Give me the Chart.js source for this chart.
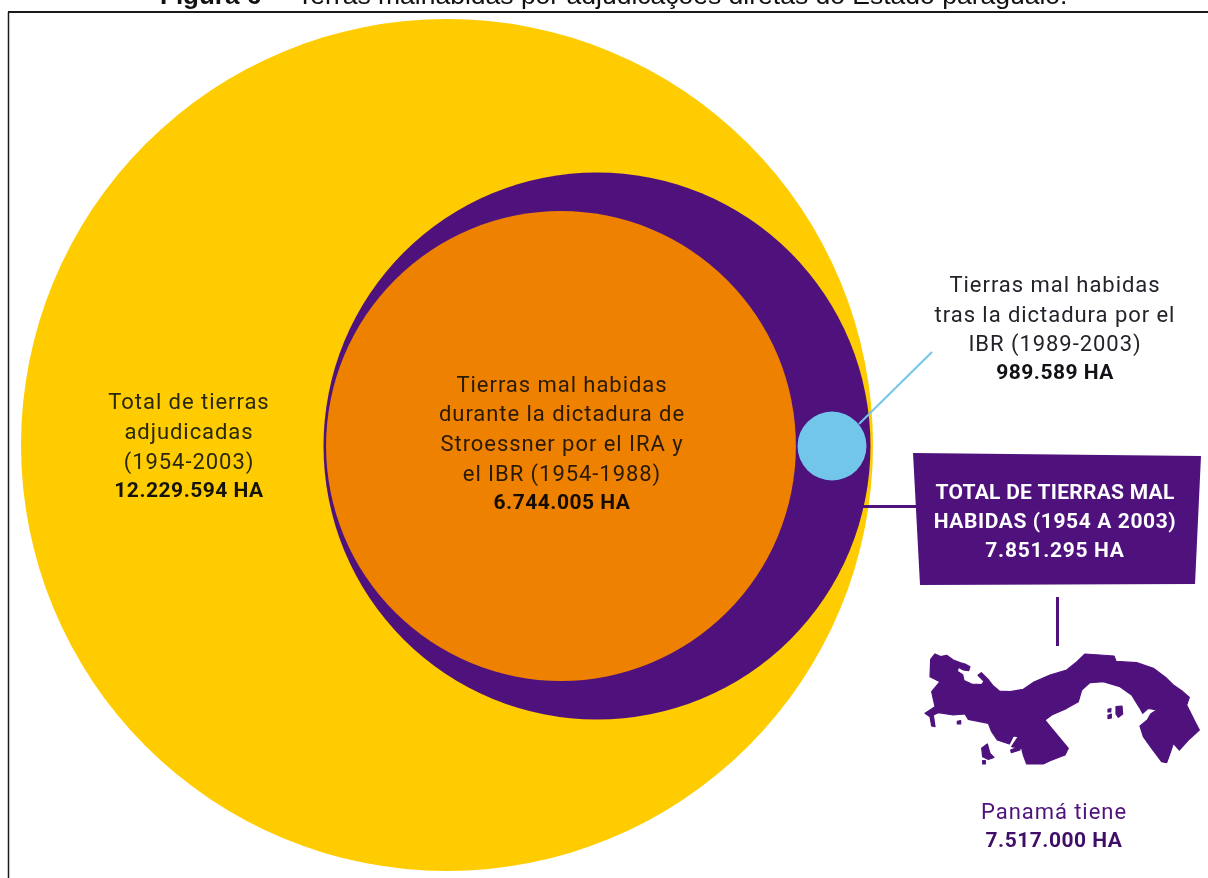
<!DOCTYPE html>
<html lang="es">
<head>
<meta charset="utf-8">
<title>Tierras mal habidas</title>
<script src="https://cdn.jsdelivr.net/npm/chart.js@4"></script>
<style>
  html, body { margin: 0; padding: 0; background: #fff; overflow: hidden; }
  canvas { display: block; }
</style>
</head>
<body>
<canvas id="chart" width="1208" height="878"></canvas>
<script>
// Hectares per category; each circle's radius is proportional to its hectares.
const categories = ['Total de tierras adjudicadas', 'Total de tierras mal habidas', 'Dictadura de Stroessner', 'Tras la dictadura'];
const hectares = [12229594, 7851295, 6744005, 989589];
const colors = ['#FECC00', '#4F127D', '#EE8100', '#72C6EA'];
// Horizontal offset of each circle's centre from the largest one, in hectares.
const centreOffsets = [0, 4306000, 3272000, 11053000];
const verticalOffsets = [0, -29000, -29000, -29000];

const haPerPixel = 12229594 / 426;
const originX = 447, originY = 445;

// Outline of Panama, traced on a grid of 3 units per pixel.
const panamaMain = [[62,58],[75,42],[92,50],[110,46],[130,60],[150,68],[165,72],[180,80],[176,92],[160,90],[145,82],[142,94],[158,104],[162,122],[185,132],[215,134],[222,124],[204,106],[214,98],[236,120],[250,138],[268,153],[300,155],[340,148],[372,126],[420,105],[470,90],[500,66],[525,42],[570,45],[612,48],[618,64],[680,68],[730,85],[770,115],[790,135],[815,152],[838,172],[830,195],[845,225],[855,245],[868,270],[835,300],[808,330],[790,310],[782,335],[770,368],[755,365],[725,325],[700,290],[690,258],[712,240],[722,222],[740,210],[715,205],[698,220],[690,205],[665,165],[630,140],[580,125],[540,128],[515,150],[505,185],[470,205],[425,225],[405,240],[425,265],[450,295],[475,325],[465,345],[420,362],[400,372],[350,372],[340,345],[335,325],[305,320],[325,290],[310,288],[298,312],[262,300],[245,275],[235,250],[175,238],[165,222],[130,225],[85,218],[70,225],[75,260],[65,258],[60,230],[45,220],[75,200],[65,155],[90,125],[60,110]];
const panamaIslands = [
  [[215,325],[232,312],[240,340],[252,352],[235,358],[218,350]],
  [[618,200],[636,198],[638,222],[625,232],[618,222]],
  [[594,208],[603,206],[602,216],[594,216]],
  [[594,226],[604,222],[604,234],[594,236]],
  [[302,330],[328,320],[330,330],[304,338]],
  [[218,362],[226,362],[226,372],[218,372]],
  [[142,244],[152,242],[152,252],[142,252]]
];

const labelFont = '"Roboto", sans-serif';
const textBlocks = [
  { x: 189, color: '#2a2710', boldColor: '#14130a', lines: [['Total de tierras', 403], ['adjudicadas', 433], ['(1954-2003)', 463]], bold: ['12.229.594 HA', 492] },
  { x: 562, color: '#2a1a05', boldColor: '#140c02', lines: [['Tierras mal habidas', 386], ['durante la dictadura de', 415], ['Stroessner por el IRA y', 445], ['el IBR (1954-1988)', 475]], bold: ['6.744.005 HA', 504] },
  { x: 1055, color: '#23232b', boldColor: '#111116', lines: [['Tierras mal habidas', 286], ['tras la dictadura por el', 316], ['IBR (1989-2003)', 345]], bold: ['989.589 HA', 374] },
  { x: 1055, color: '#ffffff', boldColor: '#ffffff', lines: [], bold: ['TOTAL DE TIERRAS MAL', 494], spacing: '0.25px' },
  { x: 1055, color: '#ffffff', boldColor: '#ffffff', lines: [], bold: ['HABIDAS (1954 A 2003)', 523], spacing: '0.6px' },
  { x: 1055, color: '#ffffff', boldColor: '#ffffff', lines: [], bold: ['7.851.295 HA', 552], spacing: '0.7px' },
  { x: 1054, color: '#4F127D', boldColor: '#3f0e66', lines: [['Panamá tiene', 813]], bold: ['7.517.000 HA', 842] }
];

// Leader lines, the callout box, the map, captions and the page frame.
const annotations = {
  id: 'annotations',
  beforeDatasetsDraw(chart) {
    const c = chart.ctx;
    c.save();
    c.strokeStyle = '#1a1a1a';
    c.lineWidth = 1.5;
    c.beginPath(); c.moveTo(8.5, 878); c.lineTo(8.5, 12); c.stroke();
    c.lineWidth = 2;
    c.beginPath(); c.moveTo(8, 12); c.lineTo(1208, 12); c.stroke();
    c.restore();
  },
  afterDatasetsDraw(chart) {
    const c = chart.ctx;
    c.save();

    c.strokeStyle = '#72C6EA';
    c.lineWidth = 2;
    c.beginPath(); c.moveTo(859, 424); c.lineTo(932, 352); c.stroke();

    c.strokeStyle = '#4F127D';
    c.lineWidth = 3;
    c.beginPath(); c.moveTo(863, 506.5); c.lineTo(916, 506.5); c.stroke();
    c.beginPath(); c.moveTo(1057.5, 597); c.lineTo(1057.5, 646); c.stroke();

    c.fillStyle = '#4F127D';
    c.beginPath();
    c.moveTo(913, 453); c.lineTo(1201, 456); c.lineTo(1195, 584); c.lineTo(920, 585);
    c.closePath(); c.fill();

    c.beginPath();
    [panamaMain, ...panamaIslands].forEach(shape => {
      shape.forEach(([mx, my], i) => {
        const px = 910 + mx / 3, py = 640 + my / 3;
        if (i === 0) c.moveTo(px, py); else c.lineTo(px, py);
      });
      c.closePath();
    });
    c.fill();
    c.lineJoin = 'round';
    c.lineWidth = 1.2;
    c.stroke();

    c.textAlign = 'center';
    c.textBaseline = 'middle';
    textBlocks.forEach(b => {
      c.fillStyle = b.color;
      c.font = '400 22px ' + labelFont;
      c.letterSpacing = '0.95px';
      b.lines.forEach(([t, y]) => c.fillText(t, b.x, y));
      c.fillStyle = b.boldColor;
      c.font = '700 21px ' + labelFont;
      c.letterSpacing = b.spacing || '0.5px';
      c.fillText(b.bold[0], b.x, b.bold[1]);
    });

    c.letterSpacing = '0px';
    c.textBaseline = 'alphabetic';
    c.textAlign = 'left';
    c.fillStyle = '#111';
    c.font = '700 26px "Liberation Sans", sans-serif';
    c.fillText('Figura 6', 160, 4);
    c.font = '400 26.5px "Liberation Sans", sans-serif';
    c.fillText('\u2013', 270, 4);
    c.fillText('Terras malhabidas por adjudicações diretas do Estado paraguaio.', 297, 4);
    c.restore();
  }
};

new Chart(document.getElementById('chart'), {
  type: 'bubble',
  data: {
    labels: categories,
    datasets: categories.map((name, i) => ({
      label: name,
      data: [{ x: centreOffsets[i], y: verticalOffsets[i], r: hectares[i] / haPerPixel }],
      backgroundColor: colors[i],
      hoverBackgroundColor: colors[i],
      borderWidth: 0,
      hoverBorderWidth: 0,
      order: categories.length - i,
      clip: false
    }))
  },
  options: {
    responsive: false,
    animation: false,
    devicePixelRatio: 1,
    layout: { padding: 0, autoPadding: false },
    plugins: { legend: { display: false }, title: { display: false }, tooltip: { enabled: false } },
    scales: {
      x: { type: 'linear', display: false, min: -originX * haPerPixel, max: (1208 - originX) * haPerPixel },
      y: { type: 'linear', display: false, min: -(878 - originY) * haPerPixel, max: originY * haPerPixel }
    }
  },
  plugins: [annotations]
});
</script>
</body>
</html>
